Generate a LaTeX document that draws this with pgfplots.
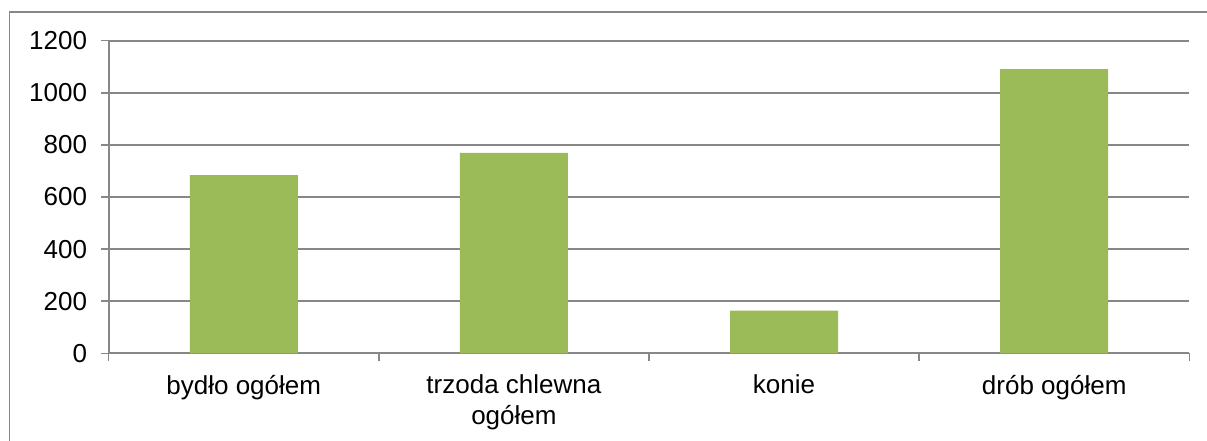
\documentclass[border=0pt]{standalone}
\usepackage{pgfplots}
\pgfplotsset{compat=1.18}
\usepackage{fontspec}
\setmainfont{Liberation Sans}
\definecolor{barg}{HTML}{9BBB59}
\definecolor{gridg}{HTML}{878787}
\begin{document}
\begin{tikzpicture}[x=1pt,y=1pt]
\useasboundingbox (0,0) rectangle (1207,441);
\draw[gridg, line width=1.2pt] (1212,429) -- (9.5,429) -- (9.5,-5);
\begin{axis}[at={(108.7pt,87.7pt)}, anchor=south west, scale only axis,
 width=1080.6pt, height=312.6pt,
 xmin=-0.5, xmax=3.5, ymin=0, ymax=1200, ytick={0,200,...,1200},
 xtick={0,1,2,3},
 xticklabels={bydło ogółem, {trzoda chlewna\\ogółem}, konie, drób ogółem},
 minor xtick={-0.5,0.5,1.5,2.5,3.5},
 axis x line*=bottom, axis y line*=left,
 ymajorgrids, major grid style={gridg, line width=1.8pt},
 axis line style={gridg, line width=1.8pt},
 tick align=outside,
 major x tick style={draw=none},
 minor x tick style={gridg, line width=1.5pt},
 major y tick style={gridg, line width=1.5pt},
 major tick length=7.5pt, minor tick length=7.5pt,
 /pgf/number format/assume math mode=true,
 /pgf/number format/1000 sep={},
 ticklabel style={font=\fontsize{26}{31}\selectfont, text=black},
 xticklabel style={align=center, anchor=north, inner sep=0pt, yshift=-14pt},
 yticklabel style={anchor=east, inner sep=0pt, xshift=-14pt},
]
\addplot[ybar, bar width=108pt, fill=barg, draw=none] coordinates {(0,684) (1,769) (2,164) (3,1091)};
\end{axis}
\end{tikzpicture}
\end{document}
